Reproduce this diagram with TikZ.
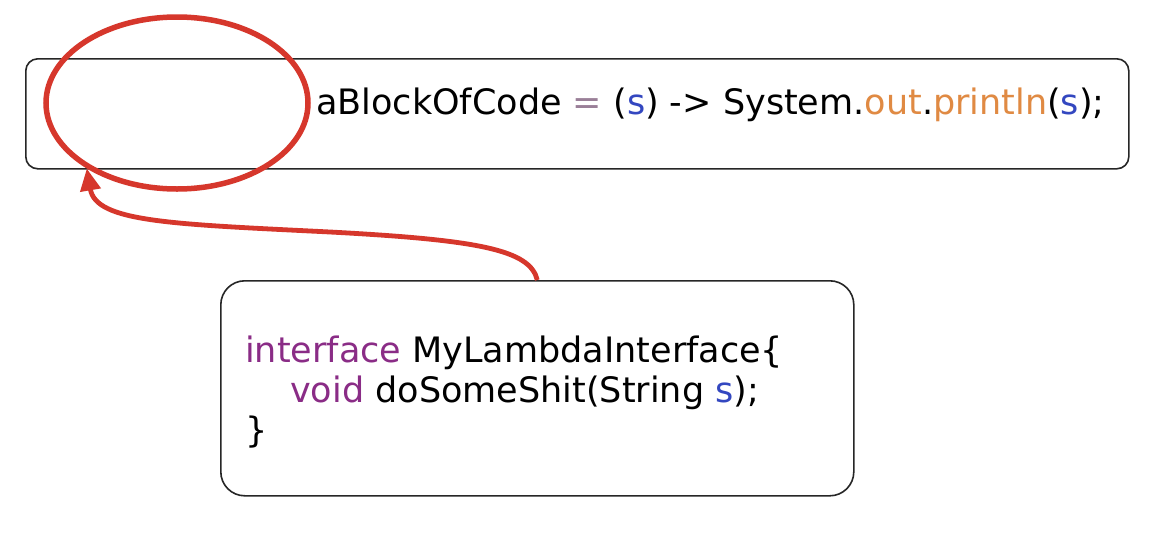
\documentclass[tikz,border=0pt]{standalone}
\usepackage{fontspec}
\setmainfont{DejaVu Sans}
\usetikzlibrary{arrows.meta,shapes.geometric,decorations.pathmorphing}
\definecolor{redline}{HTML}{D6372C}
\definecolor{kwpurple}{HTML}{8A2C86}
\definecolor{varblue}{HTML}{3347C0}
\definecolor{fldorange}{HTML}{E08A43}
\definecolor{opgrey}{HTML}{9A7F98}
\tikzset{
  codebox/.style={draw=black!85, line width=1.6pt, rounded corners=12pt, fill=white},
  codetext/.style={font=\fontsize{35}{42}\selectfont, inner sep=0pt, align=left},
  mark ellipse/.style={ellipse, draw=redline, line width=5.5pt, inner sep=0pt},
  pointer/.style={draw=redline, line width=4.8pt, -{Triangle[length=22pt,width=20pt]}}
}
\begin{document}
\begin{tikzpicture}[x=1pt,y=-1pt]
  \path[use as bounding box, fill=white] (0,0) rectangle (1154,552);
  % top box
  \node[codebox, minimum width=1103pt, minimum height=110pt, anchor=north west] (top) at (25,58) {};
  \node[codetext, anchor=base west] (lambda) at (316,114)
    {aBlockOfCode {\color{opgrey}=} ({\color{varblue}s}) -> System.{\color{fldorange}out}.{\color{fldorange}println}({\color{varblue}s});};
  % bottom box
  \node[codebox, rounded corners=24pt, minimum width=633pt, minimum height=215pt, anchor=north west] (iface) at (220,280) {};
  \node[codetext, anchor=base west] (l1) at (245,362)
    {{\color{kwpurple}interface} MyLambdaInterface\{};
  \node[codetext, anchor=base west] (l2) at (290,402)
    {{\color{kwpurple}void} doSomeShit(String {\color{varblue}s});};
  \node[codetext, anchor=base west] (l3) at (245,442) {\}};
  % red ellipse
  \node[mark ellipse, minimum width=262pt, minimum height=172pt] (ell) at (177,103) {};
  % arrow
  \draw[pointer] (iface.north) .. controls (530,250) and (480,240) .. (330,232)
      .. controls (170,224) and (96,222) .. (ell.216);
\end{tikzpicture}
\end{document}
